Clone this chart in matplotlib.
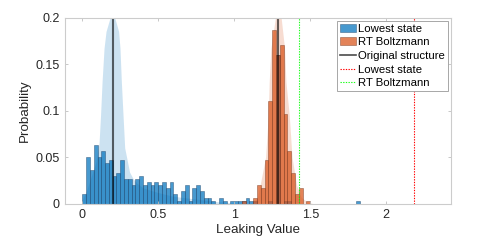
import matplotlib
matplotlib.use("Agg")
import matplotlib.pyplot as plt
import numpy as np
from matplotlib.patches import Patch
from matplotlib.lines import Line2D

plt.rcParams['font.family'] = ['Liberation Sans', 'DejaVu Sans']

# histogram data (counts out of 300 samples, bin width 0.025 starting at 0)
n_samples = 300
bin_width = 0.025

lowest_bins = [0.000, 0.025, 0.050, 0.075, 0.100, 0.125, 0.150, 0.175, 0.200, 0.225,
               0.250, 0.275, 0.300, 0.325, 0.350, 0.375, 0.400, 0.425, 0.450, 0.475,
               0.500, 0.525, 0.550, 0.575, 0.600, 0.625, 0.650, 0.675, 0.700, 0.725,
               0.750, 0.775, 0.800, 0.825, 0.850, 0.875, 0.900, 0.925, 0.950, 0.975,
               1.000, 1.025, 1.050, 1.075, 1.100, 1.125, 1.225, 1.275, 1.325, 1.350,
               1.800]
lowest_counts = [3, 15, 11, 19, 15, 17, 13, 14, 9, 10,
                 14, 8, 8, 6, 8, 9, 6, 7, 6, 7,
                 6, 7, 5, 7, 3, 1, 4, 6, 1, 5,
                 6, 4, 2, 2, 1, 0, 2, 1, 0, 1,
                 1, 1, 1, 2, 1, 1, 1, 48, 1, 1,
                 1]

rt_bins = [1.050, 1.125, 1.150, 1.175, 1.200, 1.225, 1.250, 1.275, 1.300, 1.325,
           1.350, 1.375, 1.400, 1.425, 1.475]
rt_counts = [1, 2, 6, 5, 14, 33, 56, 48, 51, 29,
             17, 10, 3, 5, 1]

# smoothed density outlines
kde_low_x = [0.00, 0.03, 0.06, 0.09, 0.11, 0.12, 0.13, 0.143, 0.156, 0.183, 0.20,
             0.213, 0.239, 0.248, 0.257, 0.268, 0.279, 0.311, 0.334, 0.36, 0.40,
             0.50, 0.60, 0.70, 0.80, 0.90, 1.00, 1.10]
kde_low_y = [0.004, 0.015, 0.030, 0.045, 0.065, 0.095, 0.131, 0.167, 0.185, 0.200, 0.205,
             0.200, 0.185, 0.167, 0.131, 0.095, 0.060, 0.034, 0.027, 0.022, 0.017,
             0.012, 0.008, 0.006, 0.004, 0.002, 0.001, 0.0]

kde_rt_x = [1.10, 1.15, 1.17, 1.206, 1.224, 1.230, 1.241, 1.270, 1.29, 1.309, 1.331,
            1.340, 1.362, 1.380, 1.41, 1.44, 1.48, 1.52]
kde_rt_y = [0.0, 0.005, 0.020, 0.050, 0.095, 0.131, 0.167, 0.199, 0.202, 0.199, 0.167,
            0.131, 0.095, 0.050, 0.020, 0.007, 0.002, 0.0]

original_lines = [0.2, 1.29]
lowest_mean = 2.184
rt_mean = 1.428

blue = (0.0, 0.447, 0.741)
orange = (0.85, 0.325, 0.098)
green = (0.1, 1.0, 0.1)
dots = (0, (1.2, 1.2))

fig = plt.figure(figsize=(4.98, 2.4), dpi=100)
ax = fig.add_axes([0.1305, 0.151, 0.775, 0.776])

ax.fill_between(kde_low_x, kde_low_y, color=blue, alpha=0.2, linewidth=0)
ax.fill_between(kde_rt_x, kde_rt_y, color=orange, alpha=0.2, linewidth=0)

low_prob = np.array(lowest_counts) / n_samples
rt_prob = np.array(rt_counts) / n_samples
ax.bar(lowest_bins, low_prob, width=bin_width, align='edge', color=blue, alpha=0.72,
       edgecolor=(0.1, 0.25, 0.4), linewidth=0.4)
ax.bar(rt_bins, rt_prob, width=bin_width, align='edge', color=orange, alpha=0.72,
       edgecolor=(0.45, 0.2, 0.1), linewidth=0.4)

for xv in original_lines:
    ax.axvline(xv, color='black', alpha=0.6, linewidth=1.5)
ax.axvline(lowest_mean, color='red', linestyle=dots, linewidth=0.8)
ax.axvline(rt_mean, color=green, linestyle=dots, linewidth=0.8)

ax.set_xlim(-0.114, 2.426)
ax.set_ylim(0, 0.2)
ax.set_xticks([0, 0.5, 1, 1.5, 2])
ax.set_xticklabels(['0', '0.5', '1', '1.5', '2'])
ax.set_yticks([0, 0.05, 0.1, 0.15, 0.2])
ax.set_yticklabels(['0', '0.05', '0.1', '0.15', '0.2'])
ax.tick_params(direction='in', length=2.5, width=0.6, colors=(0.75, 0.75, 0.75),
               labelcolor=(0.15, 0.15, 0.15), labelsize=9, top=True, right=True, pad=4)
for s in ax.spines.values():
    s.set_color((0.8, 0.8, 0.8))
    s.set_linewidth(0.8)

ax.set_xlabel('Leaking Value', fontsize=9.6, color=(0.15, 0.15, 0.15), labelpad=2)
ax.set_ylabel('Probability', fontsize=9.6, color=(0.15, 0.15, 0.15), labelpad=3)

handles = [
    Patch(facecolor=blue, alpha=0.72, edgecolor=(0.1, 0.25, 0.4), linewidth=0.4),
    Patch(facecolor=orange, alpha=0.72, edgecolor=(0.45, 0.2, 0.1), linewidth=0.4),
    Line2D([0], [0], color='black', alpha=0.7, linewidth=1.2),
    Line2D([0], [0], color='red', linestyle=dots, linewidth=0.8),
    Line2D([0], [0], color=green, linestyle=dots, linewidth=0.8),
]
labels = ['Lowest state', 'RT Boltzmann', 'Original structure', 'Lowest state', 'RT Boltzmann']
leg = ax.legend(handles, labels, loc='upper right', fontsize=8.2, frameon=True,
                fancybox=False, framealpha=1, edgecolor=(0.6, 0.6, 0.6),
                handlelength=1.4, handletextpad=0.15, labelspacing=0.32,
                borderpad=0.25, borderaxespad=0.3)
leg.get_frame().set_linewidth(0.6)

fig.savefig('out.png', dpi=100)
